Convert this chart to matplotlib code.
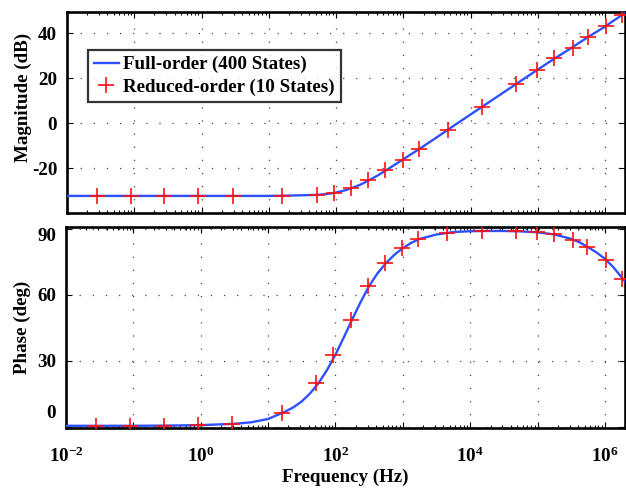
import matplotlib
matplotlib.use("Agg")
import matplotlib.pyplot as plt
import matplotlib.transforms as mtransforms
from matplotlib.ticker import FixedLocator, LogLocator, NullFormatter

# ---------------- data ----------------
# Full-order (400 states) response, frequencies in Hz
full_freq = [1e-2, 10**-1.5, 1e-1, 10**-0.5, 1e0, 10**0.5, 10**0.75, 1e1,
             10**1.25, 10**1.375, 10**1.5, 10**1.625, 10**1.75, 10**1.875,
             1e2, 10**2.125, 10**2.25, 10**2.375, 10**2.5, 10**2.625,
             10**2.75, 10**2.875, 1e3, 10**3.125, 10**3.25, 10**3.5,
             10**3.75, 1e4, 10**4.25, 10**4.5, 10**4.75, 1e5, 10**5.25,
             10**5.5, 10**5.625, 10**5.75, 10**5.875, 1e6, 10**6.125,
             10**6.25, 10**6.297]
full_mag = [-32.4, -32.4, -32.4, -32.4, -32.4, -32.4, -32.4, -32.4,
            -32.3, -32.2, -32.1, -32.0, -31.9, -31.5,
            -30.9, -30.0, -28.75, -27.2, -25.3, -23.2,
            -20.9, -18.5, -16.1, -13.7, -11.3, -6.3,
            -1.2, 3.8, 8.8, 13.8, 18.8, 23.8, 28.7,
            33.4, 35.9, 38.3, 40.6, 42.9, 45.5,
            48.0, 49.0]
full_phase = [0.4, 0.4, 0.4, 0.5, 0.7, 1.3, 2.0, 3.5,
              6.8, 8.8, 11.5, 15.2, 19.9, 25.8,
              32.8, 40.7, 48.9, 56.8, 64.0, 69.8,
              74.4, 78.2, 81.2, 83.6, 85.4, 87.4,
              88.5, 88.9, 89.0, 89.0, 88.8, 88.4, 87.4,
              85.4, 83.8, 81.6, 79.2, 76.3, 72.5,
              67.8, 66.0]

# Reduced-order (10 states) samples
red_freq = [0.028, 0.0895, 0.28, 0.9, 2.9, 16, 52, 93, 167, 304, 544, 975,
            1690, 4550, 14800, 47500, 99000, 1.77e5, 3.34e5, 5.5e5, 1.04e6,
            1.76e6]
red_mag = [-32.4, -32.4, -32.4, -32.4, -32.4, -32.3, -32.0, -31.1, -28.9,
           -25.3, -20.9, -16.3, -11.6, -3.0, 7.2, 17.3, 23.7, 28.8, 33.6,
           38.5, 43.2, 48.0]
red_phase = [0.4, 0.4, 0.4, 0.8, 1.4, 6.2, 19.7, 32.7, 48.6, 64.1, 74.4,
             81.2, 85.5, 88.0, 88.9, 88.9, 88.4, 87.4, 85.1, 81.8, 76.0, 67.2]

mag_ticks = [-20, 0, 20, 40]
phase_ticks = [0, 30, 60, 90]
decades = list(range(-2, 7))
legend_labels = ["Full-order (400 States)", "Reduced-order (10 States)"]

# ---------------- style ----------------
plt.rcParams["font.family"] = ["Liberation Serif", "DejaVu Serif"]
plt.rcParams["font.weight"] = "bold"
plt.rcParams["mathtext.fontset"] = "custom"
plt.rcParams["mathtext.rm"] = "Liberation Serif:bold"
plt.rcParams["mathtext.bf"] = "Liberation Serif:bold"
plt.rcParams["mathtext.it"] = "Liberation Serif:bold:italic"
plt.rcParams["mathtext.default"] = "bf"

FS = 13.7
BLUE = "#2f50ff"
RED = "#ff1010"

fig = plt.figure(figsize=(6.26, 4.92), dpi=100)
W, H = 626.0, 492.0
ax1 = fig.add_axes([67 / W, 1 - 213 / H, (625 - 67) / W, (213 - 12) / H])
ax2 = fig.add_axes([66 / W, 1 - 428 / H, (625 - 66) / W, (428 - 227) / H])


def style_axes(ax):
    ax.set_xscale("log")
    ax.set_xlim(1e-2, 10**6.297)
    major = [10.0**k for k in decades]
    ax.xaxis.set_major_locator(FixedLocator(major))
    ax.xaxis.set_minor_locator(LogLocator(base=10, subs=range(2, 10), numticks=50))
    ax.xaxis.set_minor_formatter(NullFormatter())
    ax.grid(True, which="major", color="#444444", linestyle=(0, (1, 9.5)), linewidth=0.9)
    ax.tick_params(which="both", direction="in", top=True, right=True,
                   labelsize=FS, width=0.8)
    ax.tick_params(axis="y", which="major", pad=7)
    ax.tick_params(axis="x", which="major", pad=13.5)
    ax.tick_params(which="major", length=4)
    ax.tick_params(which="minor", length=2)
    for sp in ax.spines.values():
        sp.set_linewidth(1.9)
    ax.set_axisbelow(True)


# Magnitude
style_axes(ax1)
l1, = ax1.plot(full_freq, full_mag, color=BLUE, lw=1.7, zorder=3)
m1, = ax1.plot(red_freq, red_mag, linestyle="none", marker="+", color=RED,
               markersize=12, markeredgewidth=1.2, zorder=4)
ax1.set_ylim(-40, 49.4)
ax1.set_yticks(mag_ticks)
ax1.set_yticklabels([str(t) for t in mag_ticks])
ax1.set_xticklabels([])
ax1.set_ylabel("Magnitude (dB)", fontsize=FS, fontweight="bold")
ax1.yaxis.set_label_coords(-0.062, 0.575)
leg = ax1.legend([l1, m1], legend_labels, loc="upper left",
                 bbox_to_anchor=(0.037, 0.812), borderaxespad=0, fontsize=FS,
                 frameon=True, fancybox=False, handlelength=1.3,
                 handletextpad=0.25, borderpad=0.33, labelspacing=0.25)
leg.get_frame().set_edgecolor("black")
leg.get_frame().set_linewidth(1.6)

# Phase
style_axes(ax2)
ax2.plot(full_freq, full_phase, color=BLUE, lw=1.7, zorder=3)
ax2.plot(red_freq, red_phase, linestyle="none", marker="+", color=RED,
         markersize=12, markeredgewidth=1.2, zorder=4)
ax2.set_ylim(-0.6, 90.8)
ax2.set_yticks(phase_ticks)
ax2.set_yticklabels([str(t) for t in phase_ticks])
ax2.set_xticklabels([("$10^{%d}$" % k) if k % 2 == 0 else "" for k in decades])
ax2.set_ylabel("Phase (deg)", fontsize=FS, fontweight="bold")
ax2.yaxis.set_label_coords(-0.062, 0.5)
ax2.set_xlabel("Frequency (Hz)", fontsize=FS, fontweight="bold", labelpad=2)

fig.canvas.draw()
# the "0" and "90" phase labels sit inside the axis range in the reference
labs = ax2.get_yticklabels()
labs[0].set_transform(labs[0].get_transform() +
                      mtransforms.ScaledTranslation(0, 0.155, fig.dpi_scale_trans))
labs[-1].set_transform(labs[-1].get_transform() +
                       mtransforms.ScaledTranslation(0, -0.06, fig.dpi_scale_trans))

fig.savefig("out.png", dpi=100)
